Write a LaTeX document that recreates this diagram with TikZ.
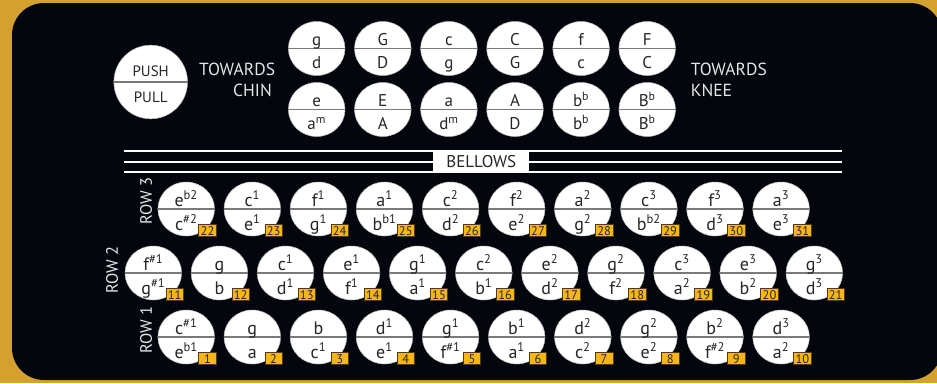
\documentclass[tikz,border=0pt]{standalone}
\usepackage{fontspec}
\setmainfont{PT Sans}
\usetikzlibrary{calc,shapes.geometric}
\definecolor{frame}{HTML}{D4A12F}
\definecolor{panel}{HTML}{03060D}
\definecolor{tag}{HTML}{F8B516}
\definecolor{tagline}{HTML}{4D3C12}
\definecolor{split}{HTML}{7A7A7A}
\definecolor{label}{HTML}{E6E6E6}
\newcommand\nsup[1]{\textsuperscript{#1}}
\tikzset{
 key/.style={ellipse,fill=white,draw=gray!50,line width=.5pt,minimum width=56.6pt,minimum height=54pt,inner sep=0},
 bigkey/.style={circle,fill=white,draw=gray!50,line width=.5pt,minimum size=73.6pt,inner sep=0},
 splitline/.style={draw=split,line width=1.6pt},
 note/.style={anchor=base,inner sep=0,font=\fontsize{18}{20}\selectfont,text=black!85},
 bassnote/.style={note,font=\fontsize{17}{19}\selectfont},
 numtag/.style={rectangle,fill=tag,draw=tagline,line width=.7pt,minimum width=17.5pt,minimum height=12pt,inner sep=0,font=\fontsize{12.5}{13}\selectfont,text=black!85},
 side/.style={anchor=base west,inner sep=0,text=label,font=\fontsize{17.5}{19}\selectfont},
 rowlabel/.style={rotate=90,inner sep=0,text=label,font=\fontsize{16.5}{18}\selectfont},
 bellowline/.style={draw=white,line width=2pt},
 bellowbox/.style={rectangle,fill=white,minimum width=96pt,minimum height=21.3pt,inner sep=0,font=\fontsize{17}{19}\selectfont,text=black!85}
}
\begin{document}
\begin{tikzpicture}[x=1pt,y=-1pt]
\useasboundingbox (0,0) rectangle (937,383);
\fill[frame] (0,0) rectangle (937,383);
\fill[panel,rounded corners=32pt] (12,3) rectangle (942,380);
% push / pull legend
\node[bigkey] (legend) at (150.7,82) {};
\draw[splitline] (legend.west) -- (legend.east);
\node[bassnote,font=\fontsize{15}{17}\selectfont] (legend-push) at ($(legend.center)+(0,-6)$) {PUSH};
\node[bassnote,font=\fontsize{15}{17}\selectfont] (legend-pull) at ($(legend.center)+(0,20.7)$) {PULL};
\node[side] (chin1) at (199,75) {TOWARDS};
\node[side] (chin2) at (233,96) {CHIN};
\node[side] (knee1) at (690.7,75) {TOWARDS};
\node[side] (knee2) at (690.7,96) {KNEE};
% bass side
\foreach \pushn/\pulln [count=\k] in {g/d,G/D,c/g,C/G,f/c,F/C}{
 \pgfmathsetmacro\xx{316.7+66.1*(\k-1)}
 \node[key] (b1k\k) at (\xx,48.5) {};
 \draw[splitline] (b1k\k.west) -- (b1k\k.east);
 \node[bassnote] (b1k\k-push) at ($(b1k\k.center)+(0,-3)$) {\pushn};
 \node[bassnote] (b1k\k-pull) at ($(b1k\k.center)+(0,20)$) {\pulln};
}
\foreach \pushn/\pulln [count=\k] in {e/a\nsup{m},E/A,a/d\nsup{m},A/D,b\nsup{b}/b\nsup{b},B\nsup{b}/B\nsup{b}}{
 \pgfmathsetmacro\xx{316.7+66.1*(\k-1)}
 \node[key] (b2k\k) at (\xx,109.5) {};
 \draw[splitline] (b2k\k.west) -- (b2k\k.east);
 \node[bassnote] (b2k\k-push) at ($(b2k\k.center)+(0,-3)$) {\pushn};
 \node[bassnote] (b2k\k-pull) at ($(b2k\k.center)+(0,20)$) {\pulln};
}
% bellows
\coordinate (bl1) at (124,151);
\coordinate (br1) at (842,151);
\coordinate (bl2) at (124,161.7);
\coordinate (br2) at (842,161.7);
\coordinate (bl3) at (124,172.3);
\coordinate (br3) at (842,172.3);
\draw[bellowline] (bl1) -- (br1);
\draw[bellowline] (bl2) -- (br2);
\draw[bellowline] (bl3) -- (br3);
\node[bellowbox] (bellows) at (481.3,161.7) {BELLOWS};
% treble side
\node[rowlabel] (row3) at (146,201) {ROW 3};
\node[rowlabel] (row2) at (112,270) {ROW 2};
\node[rowlabel] (row1) at (146,330) {ROW 1};
\foreach \num/\pushn/\pulln [count=\k] in {22/e\nsup{b2}/c\nsup{\#2},23/c\nsup{1}/e\nsup{1},24/f\nsup{1}/g\nsup{1},25/a\nsup{1}/b\nsup{b1},26/c\nsup{2}/d\nsup{2},27/f\nsup{2}/e\nsup{2},28/a\nsup{2}/g\nsup{2},29/c\nsup{3}/b\nsup{b2},30/f\nsup{3}/d\nsup{3},31/a\nsup{3}/e\nsup{3}}{
 \pgfmathsetmacro\xx{186.2+66.1*(\k-1)}
 \node[key] (r3k\k) at (\xx,209) {};
 \draw[splitline] (r3k\k.west) -- (r3k\k.east);
 \node[note] (r3k\k-push) at ($(r3k\k.center)+(0,-3)$) {\pushn};
 \node[note] (r3k\k-pull) at ($(r3k\k.center)+(0,21)$) {\pulln};
 \node[numtag] (r3k\k-num) at ($(r3k\k.center)+(21.3,21.8)$) {\num};
}
\foreach \num/\pushn/\pulln [count=\k] in {11/f\nsup{\#1}/g\nsup{\#1},12/g/b,13/c\nsup{1}/d\nsup{1},14/e\nsup{1}/f\nsup{1},15/g\nsup{1}/a\nsup{1},16/c\nsup{2}/b\nsup{1},17/e\nsup{2}/d\nsup{2},18/g\nsup{2}/f\nsup{2},19/c\nsup{3}/a\nsup{2},20/e\nsup{3}/b\nsup{2},21/g\nsup{3}/d\nsup{3}}{
 \pgfmathsetmacro\xx{153.3+66.1*(\k-1)}
 \node[key] (r2k\k) at (\xx,273) {};
 \draw[splitline] (r2k\k.west) -- (r2k\k.east);
 \node[note] (r2k\k-push) at ($(r2k\k.center)+(0,-3)$) {\pushn};
 \node[note] (r2k\k-pull) at ($(r2k\k.center)+(0,21)$) {\pulln};
 \node[numtag] (r2k\k-num) at ($(r2k\k.center)+(21.3,21.8)$) {\num};
}
\foreach \num/\pushn/\pulln [count=\k] in {1/c\nsup{\#1}/e\nsup{b1},2/g/a,3/b/c\nsup{1},4/d\nsup{1}/e\nsup{1},5/g\nsup{1}/f\nsup{\#1},6/b\nsup{1}/a\nsup{1},7/d\nsup{2}/c\nsup{2},8/g\nsup{2}/e\nsup{2},9/b\nsup{2}/f\nsup{\#2},10/d\nsup{3}/a\nsup{2}}{
 \pgfmathsetmacro\xx{186.2+66.1*(\k-1)}
 \node[key] (r1k\k) at (\xx,337) {};
 \draw[splitline] (r1k\k.west) -- (r1k\k.east);
 \node[note] (r1k\k-push) at ($(r1k\k.center)+(0,-3)$) {\pushn};
 \node[note] (r1k\k-pull) at ($(r1k\k.center)+(0,21)$) {\pulln};
 \node[numtag] (r1k\k-num) at ($(r1k\k.center)+(21.3,21.8)$) {\num};
}
\end{tikzpicture}
\end{document}
